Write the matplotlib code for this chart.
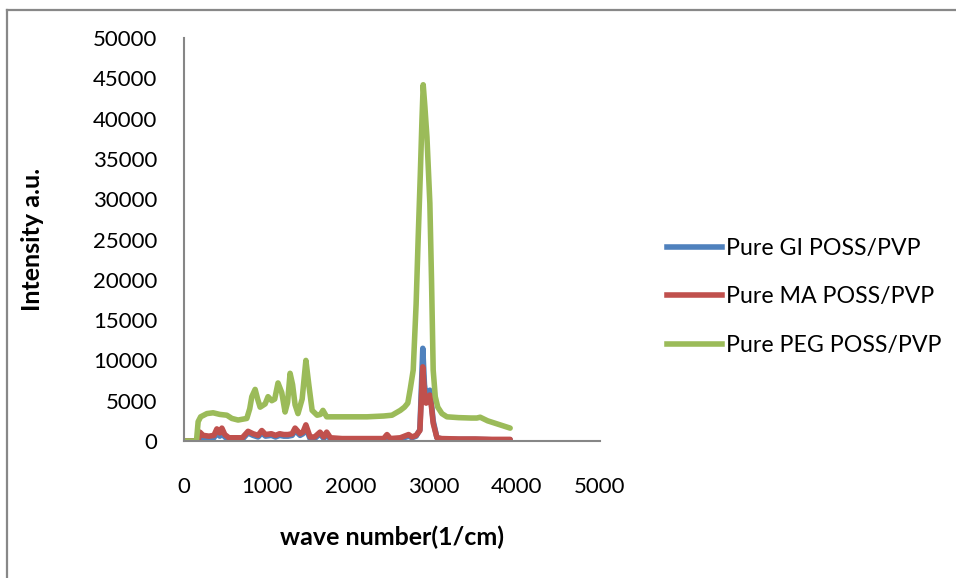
import matplotlib
matplotlib.use("Agg")
import matplotlib.pyplot as plt
from matplotlib.lines import Line2D

# Raman spectra of the three pure POSS/PVP samples
peg_x = [0, 150, 170, 200, 275, 350, 430, 515, 575, 650, 755, 790, 815, 855,
         885, 915, 975, 1010, 1055, 1090, 1130, 1175, 1215, 1245, 1275, 1305,
         1335, 1370, 1420, 1465, 1500, 1540, 1600, 1640, 1670, 1715, 1800,
         2000, 2200, 2400, 2500, 2600, 2650, 2690, 2720, 2755, 2790, 2815,
         2840, 2860, 2875, 2895, 2920, 2955, 2975, 2995, 3020, 3050, 3100,
         3160, 3300, 3450, 3520, 3560, 3650, 3800, 3920]
peg_y = [0, 0, 2400, 3000, 3400, 3500, 3300, 3200, 2800, 2600, 2800, 4000,
         5500, 6400, 5200, 4200, 4600, 5500, 5000, 5200, 7200, 6000, 3600,
         4800, 8400, 7000, 4500, 3400, 5200, 10000, 7000, 3800, 3200, 3300,
         3800, 3000, 3000, 3000, 3000, 3100, 3200, 3800, 4200, 4700, 6500,
         8800, 17000, 25300, 33000, 39800, 44200, 41500, 37700, 29500, 20000,
         8800, 5500, 4200, 3400, 3000, 2900, 2850, 2850, 2950, 2500, 2000, 1600]

ma_x = [0, 170, 190, 230, 300, 360, 395, 430, 455, 490, 540, 600, 700, 770,
        830, 890, 935, 980, 1050, 1100, 1150, 1200, 1250, 1300, 1335, 1395,
        1430, 1465, 1515, 1570, 1635, 1680, 1715, 1760, 1900, 2100, 2300,
        2400, 2440, 2480, 2600, 2700, 2740, 2790, 2835, 2870, 2890, 2910,
        2935, 2955, 2975, 2995, 3040, 3100, 3300, 3500, 3700, 3920]
ma_y = [0, 0, 1100, 700, 600, 700, 1500, 1000, 1600, 800, 400, 400, 400,
        1200, 900, 700, 1300, 800, 900, 700, 900, 800, 800, 900, 1600, 900,
        1100, 2000, 500, 500, 1100, 500, 1100, 400, 300, 300, 300, 300, 800,
        300, 400, 800, 500, 700, 1300, 9200, 6000, 4700, 5200, 5700, 4200,
        2200, 400, 300, 250, 250, 200, 200]

gi_x = [0, 170, 190, 230, 300, 360, 395, 430, 455, 490, 540, 600, 700, 770,
        830, 890, 935, 980, 1050, 1100, 1150, 1200, 1250, 1300, 1335, 1395,
        1430, 1465, 1515, 1570, 1635, 1680, 1715, 1760, 1900, 2100, 2300,
        2400, 2440, 2480, 2600, 2700, 2740, 2790, 2835, 2870, 2890, 2910,
        2935, 2955, 2975, 2995, 3040, 3100, 3300, 3500, 3700, 3920]
gi_y = [0, 0, 700, 400, 300, 400, 1100, 600, 1200, 500, 200, 200, 200,
        1000, 700, 500, 1000, 600, 700, 500, 700, 600, 600, 700, 1300, 700,
        900, 1600, 300, 300, 900, 300, 900, 200, 150, 150, 150, 150, 600,
        150, 250, 600, 400, 600, 1400, 11500, 7000, 5500, 6000, 6300, 4500,
        2500, 400, 250, 200, 200, 150, 150]

series_names = ["Pure GI POSS/PVP", "Pure MA POSS/PVP", "Pure PEG POSS/PVP"]
series_colors = ["#4F81BD", "#C0504D", "#9BBB59"]

x_ticks = [0, 1000, 2000, 3000, 4000, 5000]
y_ticks = list(range(0, 50001, 5000))

FONT = "Lato"
plt.rcParams["font.family"] = [FONT, "DejaVu Sans"]

fig = plt.figure(figsize=(9.56, 5.78), dpi=100)
ax = fig.add_axes([184 / 956, 1 - 441 / 578, (600 - 184) / 956, (441 - 38) / 578])

lw = 4.0
for xs, ys, name, col in zip([gi_x, ma_x, peg_x], [gi_y, ma_y, peg_y],
                             series_names, series_colors):
    ax.plot(xs, ys, color=col, lw=lw, label=name, solid_joinstyle="round",
            solid_capstyle="round")

ax.set_xlim(0, 5000)
ax.set_ylim(0, 50000)
ax.set_xticks(x_ticks)
ax.set_yticks(y_ticks)
ax.set_xticklabels([str(v) for v in x_ticks])
ax.set_yticklabels([str(v) for v in y_ticks])
ax.tick_params(axis="both", length=0, labelsize=16, colors="black")
ax.tick_params(axis="y", pad=19)
ax.tick_params(axis="x", pad=26)

for side in ["top", "right"]:
    ax.spines[side].set_visible(False)
for side in ["left", "bottom"]:
    ax.spines[side].set_color("#868686")
    ax.spines[side].set_linewidth(1.5)

ax.set_xlabel("wave number(1/cm)", fontsize=18, fontweight="bold")
ax.xaxis.set_label_coords(0.5, -(537 - 441) / (441 - 38), transform=ax.transAxes)
ax.xaxis.label.set_va("center")
ax.set_ylabel("Intensity a.u.", fontsize=18, fontweight="bold")
ax.yaxis.set_label_coords(-(184 - 32) / (600 - 184), 0.5, transform=ax.transAxes)
ax.yaxis.label.set_va("center")

handles = [Line2D([], [], color=c, lw=lw) for c in series_colors]
fig.legend(handles, series_names, loc="center left",
           bbox_to_anchor=(667 / 956, 1 - 297 / 578), frameon=False,
           fontsize=16.7, handlelength=2.35, handletextpad=0.2,
           labelspacing=1.2, borderaxespad=0, borderpad=0)

# chart area border (top and left edges)
fig.add_artist(Line2D([7 / 956, 1.0], [1 - 10 / 578, 1 - 10 / 578],
                      transform=fig.transFigure, color="#888888", lw=1.6))
fig.add_artist(Line2D([7 / 956, 7 / 956], [0.0, 1 - 10 / 578],
                      transform=fig.transFigure, color="#888888", lw=1.6))

fig.savefig("out.png", dpi=100, facecolor="white")
